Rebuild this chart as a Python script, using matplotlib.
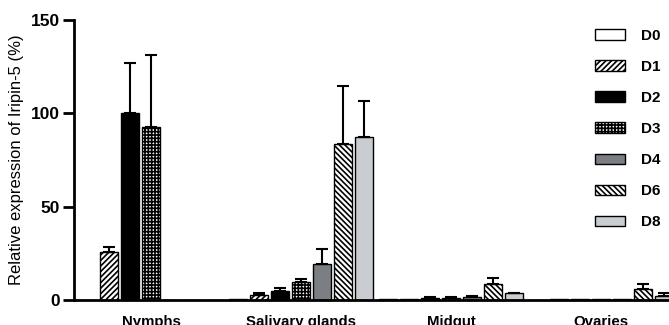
import matplotlib
matplotlib.use("Agg")
import matplotlib.pyplot as plt
import numpy as np

categories = ["Nymphs", "Salivary glands", "Midgut", "Ovaries"]
series = ["D0", "D1", "D2", "D3", "D4", "D6", "D8"]

D0 = [0, 0.3, 0.3, 0.2]
D1 = [25.5, 2.7, 0.6, 0.3]
D2 = [100, 5.0, 1.2, 0.4]
D3 = [92.5, 9.8, 1.2, 0.5]
D4 = [0, 19.5, 1.8, 0.6]
D6 = [0, 83.8, 8.8, 5.9]
D8 = [0, 87.5, 3.7, 2.1]

D0_err = [0, 0, 0, 0]
D1_err = [2.9, 0.8, 0, 0]
D2_err = [26.8, 1.3, 0.3, 0]
D3_err = [38.5, 1.3, 0.3, 0]
D4_err = [0, 7.8, 0.3, 0]
D6_err = [0, 30.8, 3.0, 2.7]
D8_err = [0, 19.3, 0.3, 1.8]

yticks = [0, 50, 100, 150]

values = [D0, D1, D2, D3, D4, D6, D8]
errors = [D0_err, D1_err, D2_err, D3_err, D4_err, D6_err, D8_err]
styles = [
    dict(color="white", hatch=None),
    dict(color="white", hatch="//////"),
    dict(color="black", hatch=None),
    dict(color="white", hatch="+++++"),
    dict(color="#7b7e82", hatch=None),
    dict(color="white", hatch="\\\\\\\\\\\\"),
    dict(color="#c9cdd1", hatch=None),
]

plt.rcParams["font.family"] = ["Liberation Sans", "DejaVu Sans"]
plt.rcParams["hatch.linewidth"] = 1.2

fig = plt.figure(figsize=(6.69, 3.25), dpi=100)
ax = fig.add_axes([74 / 669, 1 - 300 / 325, 1 - 74 / 669, 280 / 325])

x = np.arange(len(categories))
step = 0.14
width = 0.12
handles = []
for k, (name, vals, errs, st) in enumerate(zip(series, values, errors, styles)):
    pos = x + (k - 3) * step
    b = ax.bar(pos, vals, width, color=st["color"], edgecolor="black",
               linewidth=1.0, hatch=st["hatch"], label=name, zorder=2)
    handles.append(b)
    e = np.array(errs)
    m = e > 0
    if m.any():
        ax.errorbar(pos[m], np.array(vals)[m], yerr=[np.zeros(m.sum()), e[m]],
                    fmt="none", ecolor="black", elinewidth=1.5, capsize=4,
                    capthick=1.5, zorder=3)

ax.set_xlim(-0.513, 3.453)
ax.set_ylim(0, 150)
ax.set_yticks(yticks)
ax.set_yticklabels([str(t) for t in yticks], fontsize=12.5, fontweight="bold")
ax.set_xticks(x)
ax.set_xticklabels(categories, fontsize=10.8, fontweight="bold")
ax.tick_params(axis="x", length=0, pad=11)
ax.tick_params(axis="y", length=8, width=2, pad=2)
for s in ["top", "right"]:
    ax.spines[s].set_visible(False)
for s in ["left", "bottom"]:
    ax.spines[s].set_linewidth(2)
ax.set_ylabel("Relative expression of Iripin-5 (%)", fontsize=12, labelpad=5)

leg = fig.legend(handles=handles, labels=series, loc="upper left",
                 bbox_to_anchor=(581 / 669, 1 - 15 / 325), frameon=False,
                 prop=dict(size=11, weight="bold"), handlelength=2.0,
                 handleheight=0.7, handletextpad=1.05, labelspacing=1.12)

fig.savefig("out.png", dpi=100)
